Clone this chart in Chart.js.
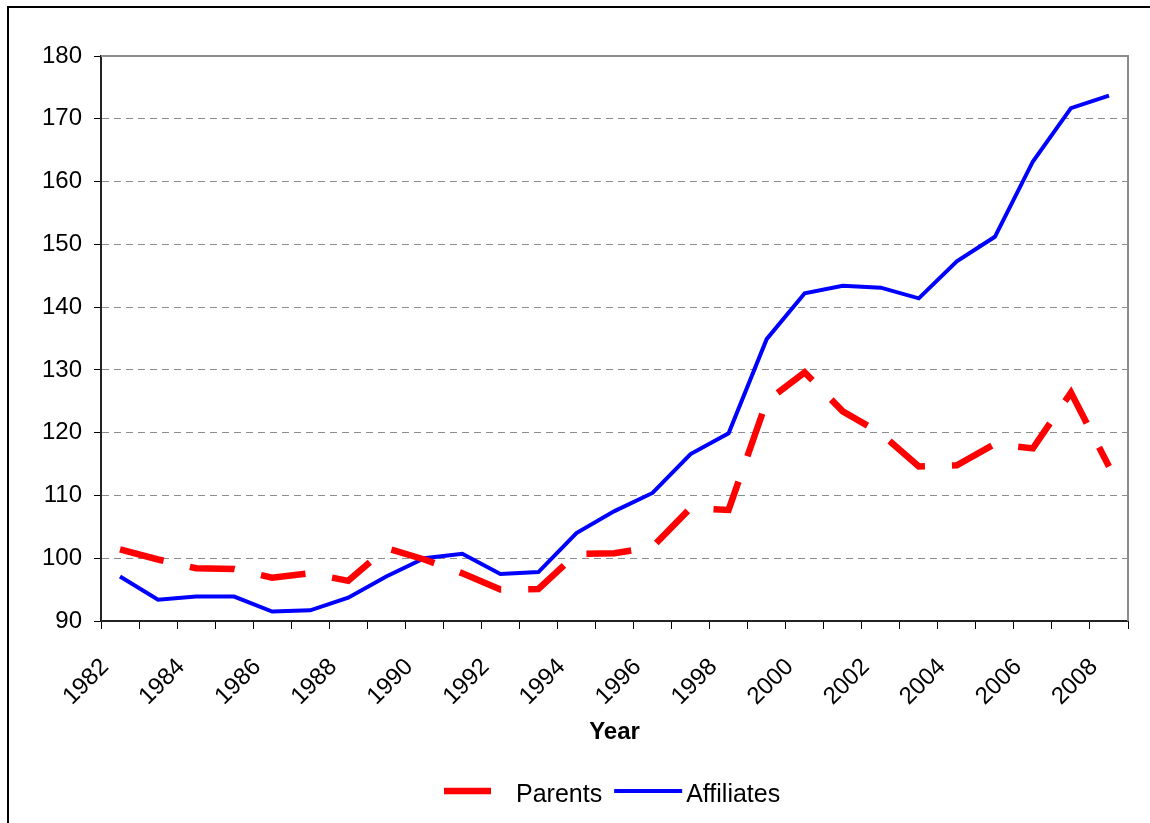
<!DOCTYPE html>
<html>
<head>
<meta charset="utf-8">
<script src="https://cdn.jsdelivr.net/npm/chart.js@4.4.0/dist/chart.umd.min.js"></script>
<style>
  html, body { margin: 0; padding: 0; background: #fff; overflow: hidden; }
  #frame { position: absolute; left: 7px; top: 6px; width: 1300px; height: 1000px; border-left: 2px solid #000; border-top: 2px solid #000; }
  #wrap { position: absolute; left: 0; top: 0; width: 1150px; height: 823px; }
</style>
</head>
<body>
<div id="frame"></div>
<div id="wrap"><canvas id="myLine" width="1150" height="823"></canvas></div>
<script>
// data
const years = ['1982', '1983', '1984', '1985', '1986', '1987', '1988', '1989', '1990',
    '1991', '1992', '1993', '1994', '1995', '1996', '1997', '1998', '1999', '2000',
    '2001', '2002', '2003', '2004', '2005', '2006', '2007', '2008'];
const parents = [101.4, 99.8, 98.4, 98.3, 96.9, 97.6, 96.4, 101.6, 99.8,
    97.6, 95.0, 95.1, 100.7, 100.8, 101.8, 108.0, 107.7, 125.0, 129.6,
    123.4, 119.9, 114.6, 114.8, 118.2, 117.5, 126.4, 114.6];
const affiliates = [97.1, 93.4, 93.9, 93.9, 91.5, 91.7, 93.7, 97.1, 100.0,
    100.7, 97.5, 97.8, 104.0, 107.5, 110.4, 116.6, 119.9, 134.9, 142.2,
    143.4, 143.1, 141.4, 147.3, 151.2, 163.2, 171.7, 173.7];
const yMin = 90, yMax = 180, yStep = 10;

const FONT = "'Liberation Sans', Arial, sans-serif";

// grey frame on top and right of the plot area (Excel style)
const plotFrame = {
    id: 'plotFrame',
    beforeDatasetsDraw(chart) {
        const { ctx, chartArea: a } = chart;
        ctx.save();
        ctx.strokeStyle = '#8c8c8c';
        ctx.lineWidth = 2;
        ctx.beginPath();
        ctx.moveTo(a.left, a.top);
        ctx.lineTo(a.right, a.top);
        ctx.lineTo(a.right, a.bottom);
        ctx.stroke();
        ctx.restore();
    }
};

// legend drawn by hand so the sample/text spacing matches
const lineLegend = {
    id: 'lineLegend',
    afterDraw(chart) {
        const ctx = chart.ctx;
        let x = 444;
        const y = 791;
        chart.data.datasets.forEach(ds => {
            ctx.save();
            ctx.strokeStyle = ds.borderColor;
            ctx.lineWidth = ds.borderWidth;
            ctx.lineCap = 'butt';
            ctx.setLineDash(ds.borderDash ? [47, 40] : []);
            ctx.beginPath();
            ctx.moveTo(x, y);
            ctx.lineTo(x + 68, y);
            ctx.stroke();
            ctx.restore();
            x += 68 + 4;

            ctx.save();
            ctx.font = '25px ' + FONT;
            ctx.fillStyle = '#000';
            ctx.textBaseline = 'alphabetic';
            ctx.fillText(ds.label, x, 801.5);
            const w = ctx.measureText(ds.label).width;
            ctx.restore();
            x += w + 12;
        });
    }
};

function initLineChart() {
    const ctx = document.getElementById('myLine').getContext('2d');
    new Chart(ctx, {
        type: 'line',
        data: {
            labels: years,
            datasets: [{
                label: 'Parents',
                data: parents,
                borderColor: '#ff0000',
                borderWidth: 6.5,
                borderDash: [45, 27],
                borderCapStyle: 'butt',
                pointRadius: 0,
                tension: 0,
                fill: false
            }, {
                label: 'Affiliates',
                data: affiliates,
                borderColor: '#0000ff',
                borderWidth: 4,
                pointRadius: 0,
                tension: 0,
                fill: false
            }]
        },
        options: {
            responsive: false,
            animation: false,
            devicePixelRatio: 1,
            layout: { padding: { left: 20, right: 22, top: 56, bottom: 52 } },
            plugins: {
                legend: { display: false },
                tooltip: { enabled: false }
            },
            scales: {
                x: {
                    offset: true,
                    grid: {
                        offset: true,
                        drawOnChartArea: false,
                        tickLength: 8,
                        tickColor: '#000',
                        color: '#000'
                    },
                    border: { display: true, color: '#222', width: 2 },
                    ticks: {
                        autoSkip: false,
                        minRotation: 45,
                        maxRotation: 45,
                        padding: 24,
                        labelOffset: -15,
                        color: '#000',
                        font: { family: FONT, size: 24 },
                        callback: function (v, i) {
                            return i % 2 === 0 ? this.getLabelForValue(v) : '';
                        }
                    },
                    title: {
                        display: true,
                        text: 'Year',
                        color: '#000',
                        font: { family: FONT, size: 24, weight: 'bold' },
                        padding: { top: 0, bottom: 24 }
                    },
                    afterFit: s => {
                        s.height = 150;
                        s.paddingLeft = 0;
                        s.paddingRight = 0;
                    }
                },
                y: {
                    min: yMin,
                    max: yMax,
                    grid: {
                        color: '#8c8c8c',
                        lineWidth: 1,
                        tickLength: 7,
                        tickColor: '#000'
                    },
                    border: { display: true, color: '#222', width: 2, dash: [7, 5] },
                    ticks: {
                        stepSize: yStep,
                        padding: 12,
                        color: '#000',
                        font: { family: FONT, size: 24 }
                    },
                    afterFit: s => { s.width = 81; }
                }
            }
        },
        plugins: [plotFrame, lineLegend]
    });
}

document.addEventListener('DOMContentLoaded', initLineChart);
</script>
</body>
</html>
